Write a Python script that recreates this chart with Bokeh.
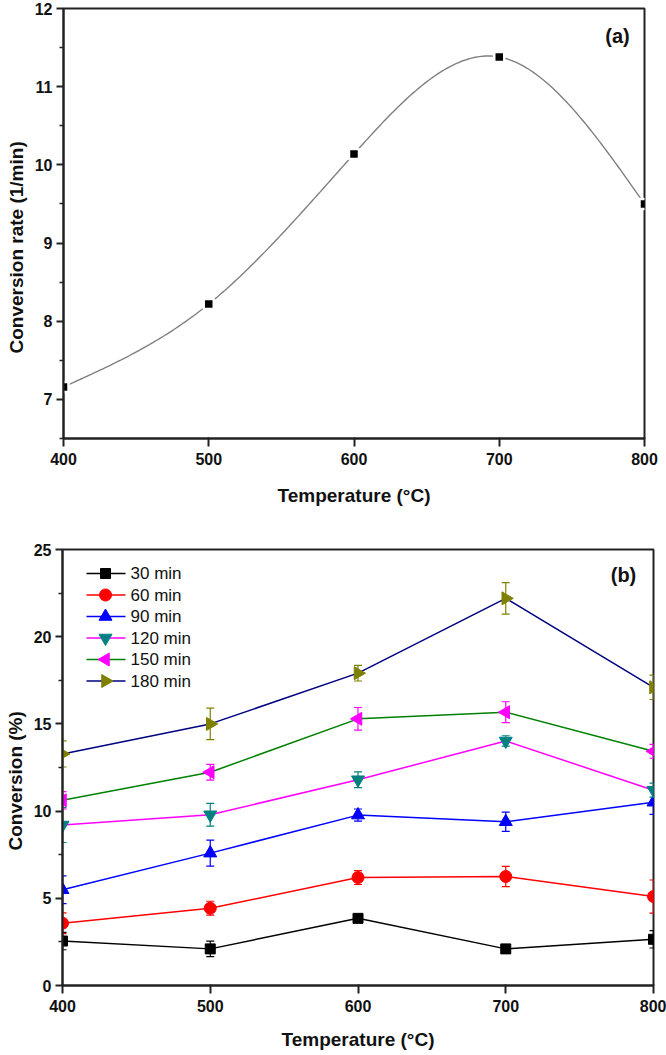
import numpy as np
from bokeh.plotting import figure
from bokeh.models import Label, FixedTicker, ColumnDataSource, Title
from bokeh.core.properties import value
from bokeh.embed import file_html
from bokeh.resources import INLINE

# ---------------- data ----------------
temps = [400, 500, 600, 700, 800]

# panel (a)
rate = [7.16, 8.22, 10.14, 11.38, 9.50]

# panel (b)
labels_b = ["30 min", "60 min", "90 min", "120 min", "150 min", "180 min"]
conv_30 = [2.55, 2.10, 3.85, 2.10, 2.65]
err_30 = [0.50, 0.45, 0.15, 0.15, 0.50]
conv_60 = [3.57, 4.43, 6.19, 6.25, 5.10]
err_60 = [0.60, 0.40, 0.40, 0.58, 0.95]
conv_90 = [5.49, 7.59, 9.77, 9.39, 10.51]
err_90 = [0.80, 0.75, 0.35, 0.55, 0.70]
conv_120 = [9.20, 9.79, 11.80, 14.02, 11.20]
err_120 = [1.00, 0.65, 0.45, 0.30, 0.40]
conv_150 = [10.62, 12.23, 15.29, 15.67, 13.43]
err_150 = [0.50, 0.45, 0.65, 0.60, 0.40]
conv_180 = [13.28, 15.00, 17.91, 22.20, 17.10]
err_180 = [0.75, 0.90, 0.45, 0.90, 0.70]

line_colors = ["#000000", "#FF0000", "#0000FF", "#FF00FF", "#008000", "#000080"]
marker_colors = ["#000000", "#FF0000", "#0000FF", "#008080", "#FF00FF", "#808000"]
markers = ["square", "circle", "triangle", "inverted_triangle", "triangle", "triangle"]
angles = [0, 0, 0, 0, np.pi / 2, -np.pi / 2]
sizes = [10, 12, 13, 13, 13, 13]

FONT = "Liberation Sans"

# layout (pixels)
W = 666
H1, B1L, B1R, B1T, B1B = 520, 63, 22, 8, 82
H2, B2L, B2R, B2T, B2B = 535, 62, 13, 29, 70
FW2 = W - B2L - B2R
FH2 = H2 - B2T - B2B


def natural_spline(x, y, n=300):
    x = np.asarray(x, float)
    y = np.asarray(y, float)
    k = len(x)
    h = np.diff(x)
    A = np.zeros((k, k))
    b = np.zeros(k)
    A[0, 0] = A[-1, -1] = 1
    for i in range(1, k - 1):
        A[i, i - 1] = h[i - 1]
        A[i, i] = 2 * (h[i - 1] + h[i])
        A[i, i + 1] = h[i]
        b[i] = 6 * ((y[i + 1] - y[i]) / h[i] - (y[i] - y[i - 1]) / h[i - 1])
    M = np.linalg.solve(A, b)
    xs = np.linspace(x[0], x[-1], n)
    idx = np.clip(np.searchsorted(x, xs) - 1, 0, k - 2)
    x0 = x[idx]
    x1 = x[idx + 1]
    hh = x1 - x0
    t0 = x1 - xs
    t1 = xs - x0
    ys = (M[idx] * t0 ** 3 / (6 * hh) + M[idx + 1] * t1 ** 3 / (6 * hh)
          + (y[idx] / hh - M[idx] * hh / 6) * t0 + (y[idx + 1] / hh - M[idx + 1] * hh / 6) * t1)
    return xs, ys


def style(p):
    p.xgrid.visible = False
    p.ygrid.visible = False
    p.outline_line_color = "#222222"
    p.outline_line_width = 2
    p.outline_line_alpha = 1
    p.background_fill_color = "white"
    p.border_fill_color = "white"
    for ax in (p.xaxis[0], p.yaxis[0]):
        ax.axis_line_width = 2
        ax.axis_line_color = "#222222"
        ax.major_tick_line_width = 2
        ax.major_tick_line_color = "#222222"
        ax.minor_tick_line_width = 1.5
        ax.minor_tick_line_color = "#222222"
        ax.major_tick_in = 0
        ax.minor_tick_in = 0
        ax.major_label_text_font = FONT
        ax.major_label_text_font_style = "bold"
        ax.major_label_text_font_size = "16px"
        ax.major_label_text_color = "#111111"
        ax.axis_label_text_font = FONT
        ax.axis_label_text_font_style = "bold"
        ax.axis_label_text_font_size = "19px"
        ax.axis_label_text_color = "#111111"
    p.yaxis[0].major_tick_out = 7
    p.yaxis[0].minor_tick_out = 4
    p.yaxis[0].major_label_standoff = 4
    p.xaxis[0].major_tick_out = 8
    p.xaxis[0].major_tick_in = 1
    p.xaxis[0].major_label_standoff = 6
    p.xaxis[0].ticker = FixedTicker(ticks=temps, minor_ticks=[])


def ytitle(p, text, offset):
    # vertical axis title, shifted along the axis like the original
    p.add_layout(Title(text=text, align="left", offset=offset, standoff=6,
                       vertical_align="top", text_font=FONT, text_font_style="bold",
                       text_font_size="19px", text_color="#111111"), "left")


# ---------------- panel (a) ----------------
p1 = figure(width=W, height=H1, x_range=(400, 800), y_range=(6.5, 12),
            output_backend="svg", toolbar_location=None,
            min_border_left=B1L, min_border_right=B1R, min_border_top=B1T, min_border_bottom=B1B)
style(p1)
p1.xaxis[0].axis_label_standoff = 17
p1.yaxis[0].ticker = FixedTicker(ticks=[7, 8, 9, 10, 11, 12],
                                 minor_ticks=[6.5, 7.5, 8.5, 9.5, 10.5, 11.5])
p1.xaxis[0].axis_label = "Temperature (°C)"
ytitle(p1, "Conversion rate (1/min)", 85)

sx, sy = natural_spline(temps, rate)
p1.line(sx, sy, line_color="#7f7f7f", line_width=1.4)
p1.scatter(temps, rate, marker="square", size=10, fill_color="black",
           line_color="white", line_width=2.5)
p1.add_layout(Label(x=781.4, y=11.65, text="(a)", text_align="center", text_baseline="middle",
                    text_font=FONT, text_font_style="bold", text_font_size="20px",
                    text_color="#111111"))

# ---------------- panel (b) ----------------
p2 = figure(width=W, height=H2, x_range=(400, 800), y_range=(0, 25),
            output_backend="svg", toolbar_location=None,
            min_border_left=B2L, min_border_right=B2R, min_border_top=B2T, min_border_bottom=B2B)
style(p2)
p2.xaxis[0].axis_label_standoff = 14
p2.yaxis[0].ticker = FixedTicker(ticks=[0, 5, 10, 15, 20, 25],
                                 minor_ticks=[2.5, 7.5, 12.5, 17.5, 22.5])
p2.xaxis[0].axis_label = "Temperature (°C)"
ytitle(p2, "Conversion (%)", 135)

series = [conv_30, conv_60, conv_90, conv_120, conv_150, conv_180]
errors = [err_30, err_60, err_90, err_120, err_150, err_180]

for i, (vals, errs) in enumerate(zip(series, errors)):
    v = np.array(vals)
    e = np.array(errs)
    src = ColumnDataSource(dict(x=temps, y=vals, lo=list(v - e), hi=list(v + e)))
    p2.line("x", "y", source=src, line_color=line_colors[i], line_width=1.5)
    p2.segment(x0="x", y0="lo", x1="x", y1="hi", source=src,
               line_color=marker_colors[i], line_width=1.2)
    p2.scatter("x", "lo", source=src, marker="dash", size=8,
               line_color=marker_colors[i], line_width=1.2)
    p2.scatter("x", "hi", source=src, marker="dash", size=8,
               line_color=marker_colors[i], line_width=1.2)
    p2.scatter("x", "y", source=src, marker=markers[i], size=sizes[i], angle=angles[i],
               fill_color=marker_colors[i], line_color=marker_colors[i])

# legend (drawn by hand so the rotated triangles show correctly)
LEG_X0, LEG_X1, LEG_MX, LEG_TX = 24, 63, 43, 68
LEG_Y0, LEG_DY = 24, 21.5


def px2x(px):
    return 400 + px * 400.0 / FW2


def py2y(py):
    return 25 - py * 25.0 / FH2


for i, lab in enumerate(labels_b):
    yy = py2y(LEG_Y0 + i * LEG_DY)
    p2.segment(x0=[px2x(LEG_X0)], y0=[yy], x1=[px2x(LEG_X1)], y1=[yy],
               line_color=line_colors[i], line_width=1.5)
    p2.scatter([px2x(LEG_MX)], [yy], marker=markers[i], size=sizes[i], angle=angles[i],
               fill_color=marker_colors[i], line_color=marker_colors[i])
    p2.text([px2x(LEG_TX)], [yy], text=[lab], text_font=value(FONT), text_font_size="17px",
            text_baseline="middle", text_align="left", text_color="#111111")

p2.add_layout(Label(x=779.7, y=23.51, text="(b)", text_align="center", text_baseline="middle",
                    text_font=FONT, text_font_style="bold", text_font_size="20px",
                    text_color="#111111"))

open("out.html", "w").write(file_html([p1, p2], INLINE))
